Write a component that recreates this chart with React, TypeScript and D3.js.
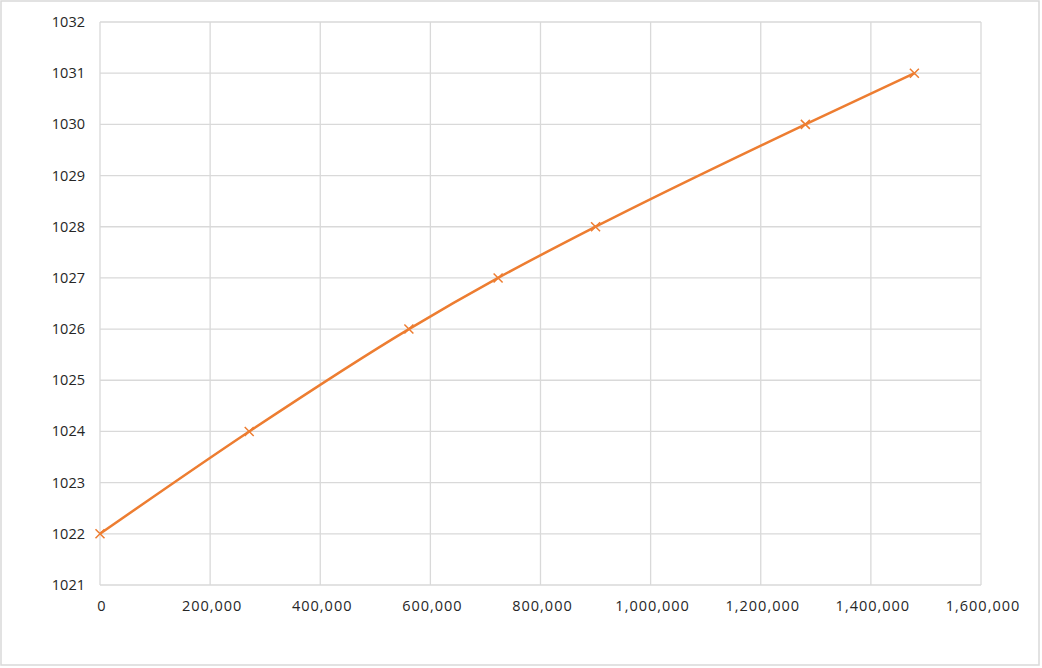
import React, { useRef, useEffect } from 'react';
import * as d3 from 'd3';

// Values
const xValues = [0, 271000, 561000, 723000, 900000, 1281000, 1479000];
const yValues = [1022, 1024, 1026, 1027, 1028, 1030, 1031];
const xTicks = [0, 200000, 400000, 600000, 800000, 1000000, 1200000, 1400000, 1600000];
const yTicks = [1021, 1022, 1023, 1024, 1025, 1026, 1027, 1028, 1029, 1030, 1031, 1032];

const W = 1042;
const H = 668;

const App: React.FC = () => {
  const svgRef = useRef<SVGSVGElement | null>(null);

  useEffect(() => {
    if (!svgRef.current) return;
    const margin = { top: 22, right: 61, bottom: 83, left: 100 };
    const width = W - margin.left - margin.right;
    const height = H - margin.top - margin.bottom;

    const root = d3.select(svgRef.current);
    root.selectAll('*').remove();

    // outer frame
    root
      .append('rect')
      .attr('x', 1)
      .attr('y', 1)
      .attr('width', 1038)
      .attr('height', 664)
      .attr('fill', '#fff')
      .attr('stroke', '#d9d9d9')
      .attr('stroke-width', 1.5);

    const svg = root.append('g').attr('transform', `translate(${margin.left},${margin.top})`);

    const x = d3.scaleLinear().domain([0, 1600000]).range([0, width]);
    const y = d3.scaleLinear().domain([1021, 1032]).range([height, 0]);

    // gridlines
    svg
      .append('g')
      .selectAll('line')
      .data(xTicks)
      .enter()
      .append('line')
      .attr('x1', d => x(d))
      .attr('x2', d => x(d))
      .attr('y1', 0)
      .attr('y2', height)
      .attr('stroke', '#d9d9d9')
      .attr('stroke-width', 1.3);

    svg
      .append('g')
      .selectAll('line')
      .data(yTicks)
      .enter()
      .append('line')
      .attr('x1', 0)
      .attr('x2', width)
      .attr('y1', d => y(d))
      .attr('y2', d => y(d))
      .attr('stroke', '#d9d9d9')
      .attr('stroke-width', 1.3);

    const fmt = d3.format(',');

    // X labels
    svg
      .append('g')
      .selectAll('text')
      .data(xTicks)
      .enter()
      .append('text')
      .attr('x', d => x(d) + 2)
      .attr('y', height + 26)
      .attr('text-anchor', 'middle')
      .attr('font-family', '"Open Sans", sans-serif')
      .attr('font-size', 14.5)
      .attr('letter-spacing', 1)
      .attr('fill', '#262626')
      .text(d => fmt(d));

    // Y labels
    svg
      .append('g')
      .selectAll('text')
      .data(yTicks)
      .enter()
      .append('text')
      .attr('x', -15)
      .attr('y', d => y(d) + 5)
      .attr('text-anchor', 'end')
      .attr('font-family', '"Open Sans", sans-serif')
      .attr('font-size', 14.5)
      .attr('fill', '#262626')
      .text(d => String(d));

    const pts = xValues.map((v, i) => [v, yValues[i]] as [number, number]);

    // Line
    const line = d3
      .line<[number, number]>()
      .x(d => x(d[0]))
      .y(d => y(d[1]))
      .curve(d3.curveMonotoneX);

    svg
      .append('path')
      .datum(pts)
      .attr('d', line)
      .attr('fill', 'none')
      .attr('stroke', '#ED7D31')
      .attr('stroke-width', 2.5);

    // X markers
    const s = 4.5;
    svg
      .append('g')
      .selectAll('path')
      .data(pts)
      .enter()
      .append('path')
      .attr('transform', d => `translate(${x(d[0])},${y(d[1])})`)
      .attr('d', `M${-s},${-s}L${s},${s}M${-s},${s}L${s},${-s}`)
      .attr('stroke', '#ED7D31')
      .attr('stroke-width', 1.5)
      .attr('fill', 'none');
  }, []);

  return (
    <svg
      ref={svgRef}
      width={W}
      height={H}
      style={{ position: 'absolute', left: 0, top: 0, display: 'block' }}
    ></svg>
  );
};

export default App;
